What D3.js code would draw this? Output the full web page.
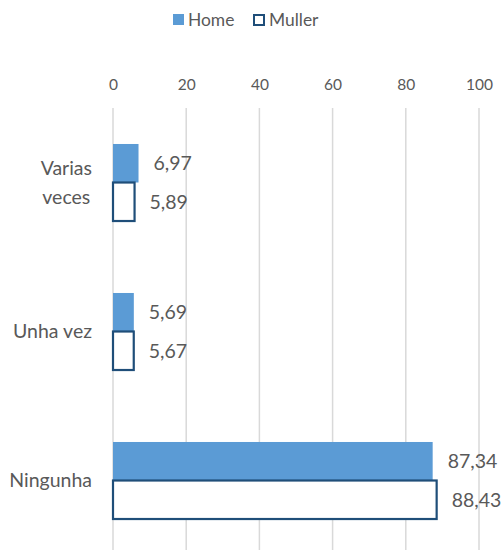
<!DOCTYPE html>
<html>
<head>
<meta charset="utf-8">
<script src="https://cdn.jsdelivr.net/npm/d3@7"></script>
<style>
  html, body { margin: 0; padding: 0; background: #fff; }
  svg { display: block; font-family: Lato, "Open Sans", sans-serif; }
</style>
</head>
<body>
<svg id="chart" width="501" height="550"></svg>
<script>
// Categories (top to bottom) and the two series
const categories = ["Varias veces", "Unha vez", "Ningunha"];
const categoryLines = [["Varias", "veces"], ["Unha vez"], ["Ningunha"]];
const seriesNames = ["Home", "Muller"];
const homeValues = [6.97, 5.69, 87.34];
const mullerValues = [5.89, 5.67, 88.43];
const xTicks = [0, 20, 40, 60, 80, 100];

const W = 501, H = 550;
const plotLeft = 113, plotRight = 479, plotTop = 108, plotBottom = 555;
const textColor = "#595959";
const homeFill = "#5B9BD5";
const mullerStroke = "#1F4E79";

const svg = d3.select("#chart");

const x = d3.scaleLinear().domain([0, 100]).range([plotLeft, plotRight]);
const y = d3.scaleBand().domain(categories).range([plotTop, plotBottom])
  .paddingInner(0.483).paddingOuter(0.2415);
const ySub = d3.scaleBand().domain(seriesNames).range([0, y.bandwidth()]);

const fmt = v => d3.format(".2f")(v).replace(".", ",");

// vertical gridlines
svg.append("g").selectAll("line").data(xTicks).join("line")
  .attr("x1", d => x(d)).attr("x2", d => x(d))
  .attr("y1", plotTop).attr("y2", H)
  .attr("stroke", "#D9D9D9").attr("stroke-width", 1.5);

// top value axis labels
const xAxis = svg.append("g").attr("transform", `translate(0,${plotTop})`)
  .call(d3.axisTop(x).tickValues(xTicks).tickSize(0).tickPadding(0).tickFormat(d3.format("d")));
xAxis.select(".domain").remove();
xAxis.selectAll("text")
  .attr("y", 84.5 - plotTop).attr("dy", "0.35em")
  .attr("fill", textColor).style("font-size", "15.5px").style("font-family", "Lato");

const rows = categories.map((c, i) => ({ cat: c, home: homeValues[i], muller: mullerValues[i] }));

// Home bars
svg.append("g").selectAll("rect").data(rows).join("rect")
  .attr("x", x(0))
  .attr("y", d => y(d.cat) + ySub("Home"))
  .attr("width", d => x(d.home) - x(0))
  .attr("height", ySub.bandwidth())
  .attr("fill", homeFill);

// Muller bars (outlined)
svg.append("g").selectAll("rect").data(rows).join("rect")
  .attr("x", x(0))
  .attr("y", d => y(d.cat) + ySub("Muller"))
  .attr("width", d => x(d.muller) - x(0))
  .attr("height", ySub.bandwidth())
  .attr("fill", "#fff")
  .attr("stroke", mullerStroke).attr("stroke-width", 2.2);

// value labels
const labels = [];
rows.forEach(d => {
  labels.push({ v: d.home, yc: y(d.cat) + ySub("Home") + ySub.bandwidth() / 2 });
  labels.push({ v: d.muller, yc: y(d.cat) + ySub("Muller") + ySub.bandwidth() / 2 });
});
svg.append("g").selectAll("text").data(labels).join("text")
  .attr("x", d => x(d.v) + 15)
  .attr("y", d => d.yc)
  .attr("dy", "0.35em")
  .attr("fill", textColor)
  .style("font-size", "19.5px")
  .text(d => fmt(d.v));

// category labels, right-aligned block, lines centred within it
const catG = svg.append("g");
categories.forEach((c, i) => {
  const lines = categoryLines[i];
  const cy = y(c) + y.bandwidth() / 2;
  const lh = 29;
  const t = catG.append("text").attr("fill", textColor).style("font-size", "19.5px")
    .attr("text-anchor", "middle");
  lines.forEach((ln, j) => {
    t.append("tspan").attr("x", 0)
      .attr("y", cy + (j - (lines.length - 1) / 2) * lh)
      .attr("dy", "0.35em").text(ln);
  });
  let maxW = 0;
  t.selectAll("tspan").each(function () {
    maxW = Math.max(maxW, this.getComputedTextLength());
  });
  t.selectAll("tspan").attr("x", 92 - maxW / 2);
});

// legend
const legend = svg.append("g");
const legendItems = [
  { name: "Home", x: 173, fill: homeFill, stroke: "none" },
  { name: "Muller", x: 254, fill: "#fff", stroke: mullerStroke }
];
legendItems.forEach(it => {
  legend.append("rect")
    .attr("x", it.x).attr("y", it.stroke === "none" ? 14 : 15)
    .attr("width", it.stroke === "none" ? 11 : 10)
    .attr("height", it.stroke === "none" ? 11 : 10)
    .attr("fill", it.fill).attr("stroke", it.stroke).attr("stroke-width", 2);
  legend.append("text")
    .attr("x", it.x + 15).attr("y", 20).attr("dy", "0.35em")
    .attr("fill", textColor).style("font-size", "17.4px").text(it.name);
});
</script>
</body>
</html>
